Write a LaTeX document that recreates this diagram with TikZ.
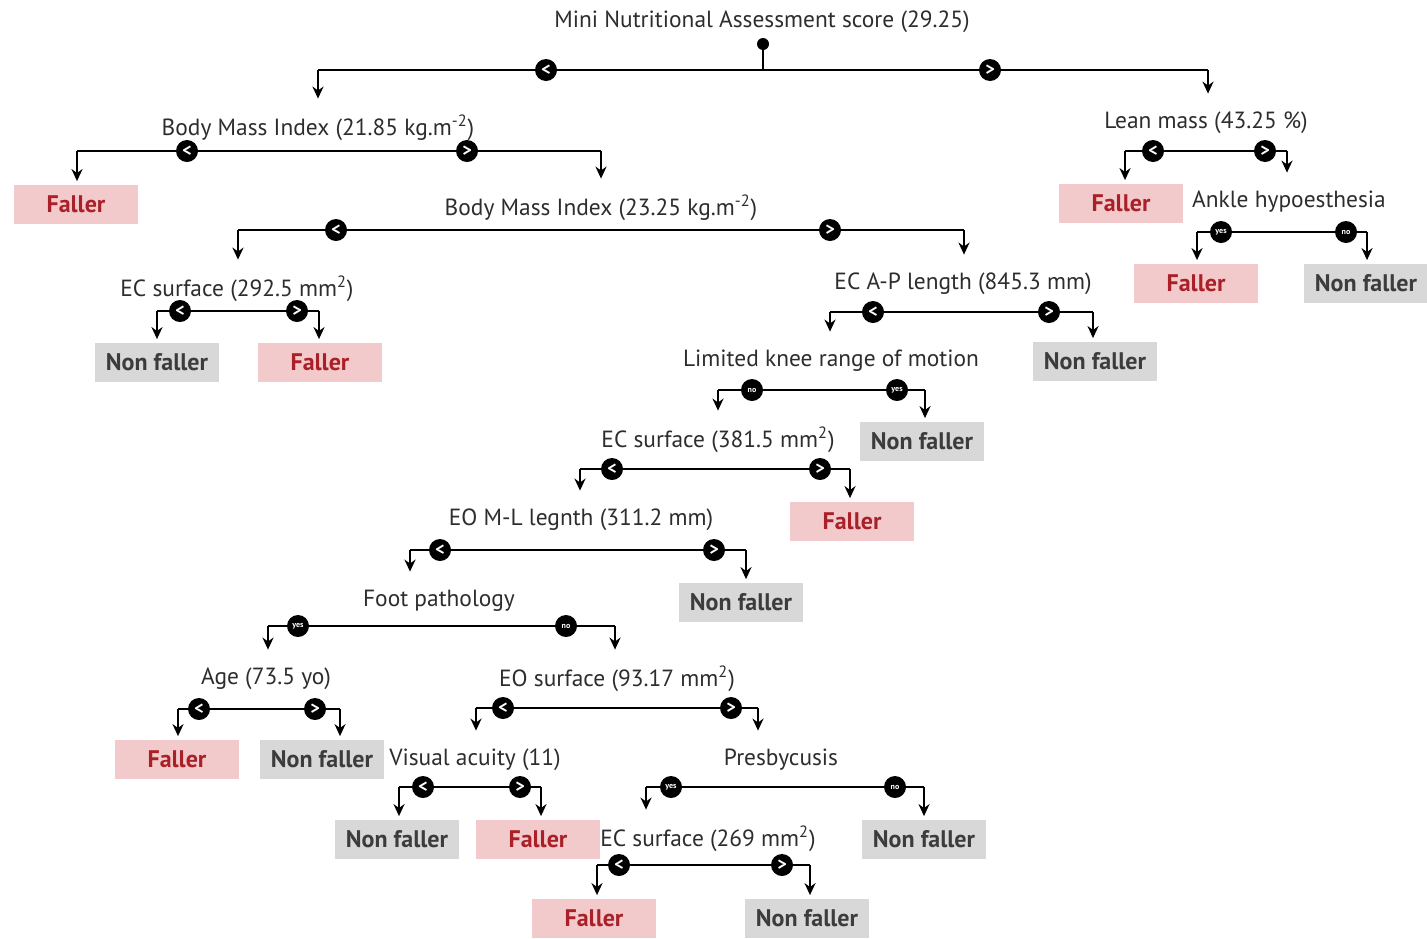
\documentclass[tikz,border=0pt]{standalone}
\usepackage{fontspec}
\setmainfont{PT Sans}
\usetikzlibrary{arrows.meta}
\definecolor{fallfill}{RGB}{242,202,204}
\definecolor{falltext}{RGB}{170,32,40}
\definecolor{nonfill}{RGB}{216,216,216}
\definecolor{nontext}{RGB}{60,60,60}
\definecolor{labtext}{RGB}{45,45,45}
\newcommand\symltA{<}
\newcommand\symltB{>}
\newcommand\symynA{yes}
\newcommand\symynB{no}
\newcommand\symnyA{no}
\newcommand\symnyB{yes}
\newcommand\brnch[9]{%
  \node[cmp#7] (#1a) at (#4,#2) {\csname sym#7A\endcsname};
  \node[cmp#7] (#1b) at (#5,#2) {\csname sym#7B\endcsname};
  \coordinate (#1l) at (#3,#2);
  \coordinate (#1r) at (#6,#2);
  \draw[bar] (#1l) -- (#1a) (#1a) -- (#1b) (#1b) -- (#1r);
  \draw[arr] (#1l) -- (#1l |- #8.north);
  \draw[arr] (#1r) -- (#1r |- #9.north);
}
\tikzset{
  lab/.style={text=labtext, font=\fontsize{11.7}{13}\selectfont, inner sep=1pt, minimum height=26pt},
  boxbase/.style={font=\bfseries\fontsize{12}{13}\selectfont, minimum width=62pt, minimum height=19.5pt, inner sep=0pt},
  faller/.style={boxbase, fill=fallfill, text=falltext},
  nonfaller/.style={boxbase, fill=nonfill, text=nontext},
  cmpbase/.style={circle, fill=black, text=white, minimum size=11pt, inner sep=0pt},
  cmplt/.style={cmpbase, font=\bfseries\fontsize{9}{9}\selectfont},
  cmpyn/.style={cmpbase, font=\bfseries\fontsize{4}{4}\selectfont},
  cmpny/.style={cmpyn},
  bar/.style={line width=1pt, black},
  arr/.style={bar, -{Stealth[length=6pt,width=5.5pt]}, shorten >=1.5pt},
}
\begin{document}
\begin{tikzpicture}[x=0.5pt,y=-0.5pt]
\fill[white] (0,0) rectangle (1427,938);
\useasboundingbox (0,0) rectangle (1427,938);
% split labels
\node[lab] (root) at (762,22) {Mini Nutritional Assessment score (29.25)};
\node[lab] (bmi1) at (318,128) {Body Mass Index (21.85 kg.m\textsuperscript{-2})};
\node[lab] (lean) at (1206,123) {Lean mass (43.25 \%)};
\node[lab] (bmi2) at (601,208) {Body Mass Index (23.25 kg.m\textsuperscript{-2})};
\node[lab] (ankle) at (1289,202) {Ankle hypoesthesia};
\node[lab] (ec292) at (237,289) {EC surface (292.5 mm\textsuperscript{2})};
\node[lab] (ecap) at (963,284) {EC A-P length (845.3 mm)};
\node[lab] (knee) at (831,361) {Limited knee range of motion};
\node[lab] (ec381) at (718,440) {EC surface (381.5 mm\textsuperscript{2})};
\node[lab] (eoml) at (581,520) {EO M-L legnth (311.2 mm)};
\node[lab] (foot) at (439,601) {Foot pathology};
\node[lab] (age) at (266,679) {Age (73.5 yo)};
\node[lab] (eosurf) at (617,679) {EO surface (93.17 mm\textsuperscript{2})};
\node[lab] (visual) at (475,760) {Visual acuity (11)};
\node[lab] (presby) at (781,760) {Presbycusis};
\node[lab] (ec269) at (708,839) {EC surface (269 mm\textsuperscript{2})};
% leaves
\node[faller] (f1) at (76,204) {Faller};
\node[faller] (f2) at (1121,203) {Faller};
\node[faller] (f3) at (1196,283) {Faller};
\node[nonfaller] (n1) at (1366,283) {Non faller};
\node[nonfaller] (n2) at (157,362) {Non faller};
\node[faller] (f4) at (320,362) {Faller};
\node[nonfaller] (n3) at (1095,361) {Non faller};
\node[nonfaller] (n4) at (922,441) {Non faller};
\node[faller] (f5) at (852,521) {Faller};
\node[nonfaller] (n5) at (741,602) {Non faller};
\node[faller] (f6) at (177,759) {Faller};
\node[nonfaller] (n6) at (322,759) {Non faller};
\node[nonfaller] (n7) at (397,839) {Non faller};
\node[faller] (f7) at (538,839) {Faller};
\node[nonfaller] (n8) at (924,839) {Non faller};
\node[faller] (f8) at (594,918) {Faller};
\node[nonfaller] (n9) at (807,918) {Non faller};
% root stem
\node[circle, fill=black, minimum size=6pt, inner sep=0pt] (rootdot) at (763,44) {};
% branches
\brnch{r}{70}{318}{546}{990}{1208}{lt}{bmi1}{lean}
\draw[bar] (rootdot.center) -- (rootdot.center |- rl);
\brnch{bmione}{151}{77}{187}{467}{601}{lt}{f1}{bmi2}
\brnch{leanb}{151}{1125}{1153}{1265}{1287}{lt}{f2}{ankle}
\brnch{bmitwo}{230}{238}{336}{830}{964}{lt}{ec292}{ecap}
\brnch{ankleb}{232}{1197}{1221}{1346}{1367}{yn}{f3}{n1}
\brnch{ecA}{311}{157}{180}{297}{319}{lt}{n2}{f4}
\brnch{ecapb}{312}{830}{873}{1049}{1093}{lt}{knee}{n3}
\brnch{kneeb}{390}{718}{752}{897}{925}{ny}{ec381}{n4}
\brnch{ecB}{469}{580}{612}{820}{850}{lt}{eoml}{f5}
\brnch{eomlb}{550}{410}{440}{714}{746}{lt}{foot}{n5}
\brnch{footb}{626}{268}{298}{566}{615}{yn}{age}{eosurf}
\brnch{ageb}{709}{178}{199}{315}{340}{lt}{f6}{n6}
\brnch{eosurfb}{708}{476}{503}{731}{758}{lt}{visual}{presby}
\brnch{visualb}{787}{399}{423}{520}{541}{lt}{n7}{f7}
\brnch{presbyb}{787}{646}{671}{895}{924}{yn}{ec269}{n8}
\brnch{ecC}{865}{597}{619}{782}{810}{lt}{f8}{n9}
\end{tikzpicture}
\end{document}
